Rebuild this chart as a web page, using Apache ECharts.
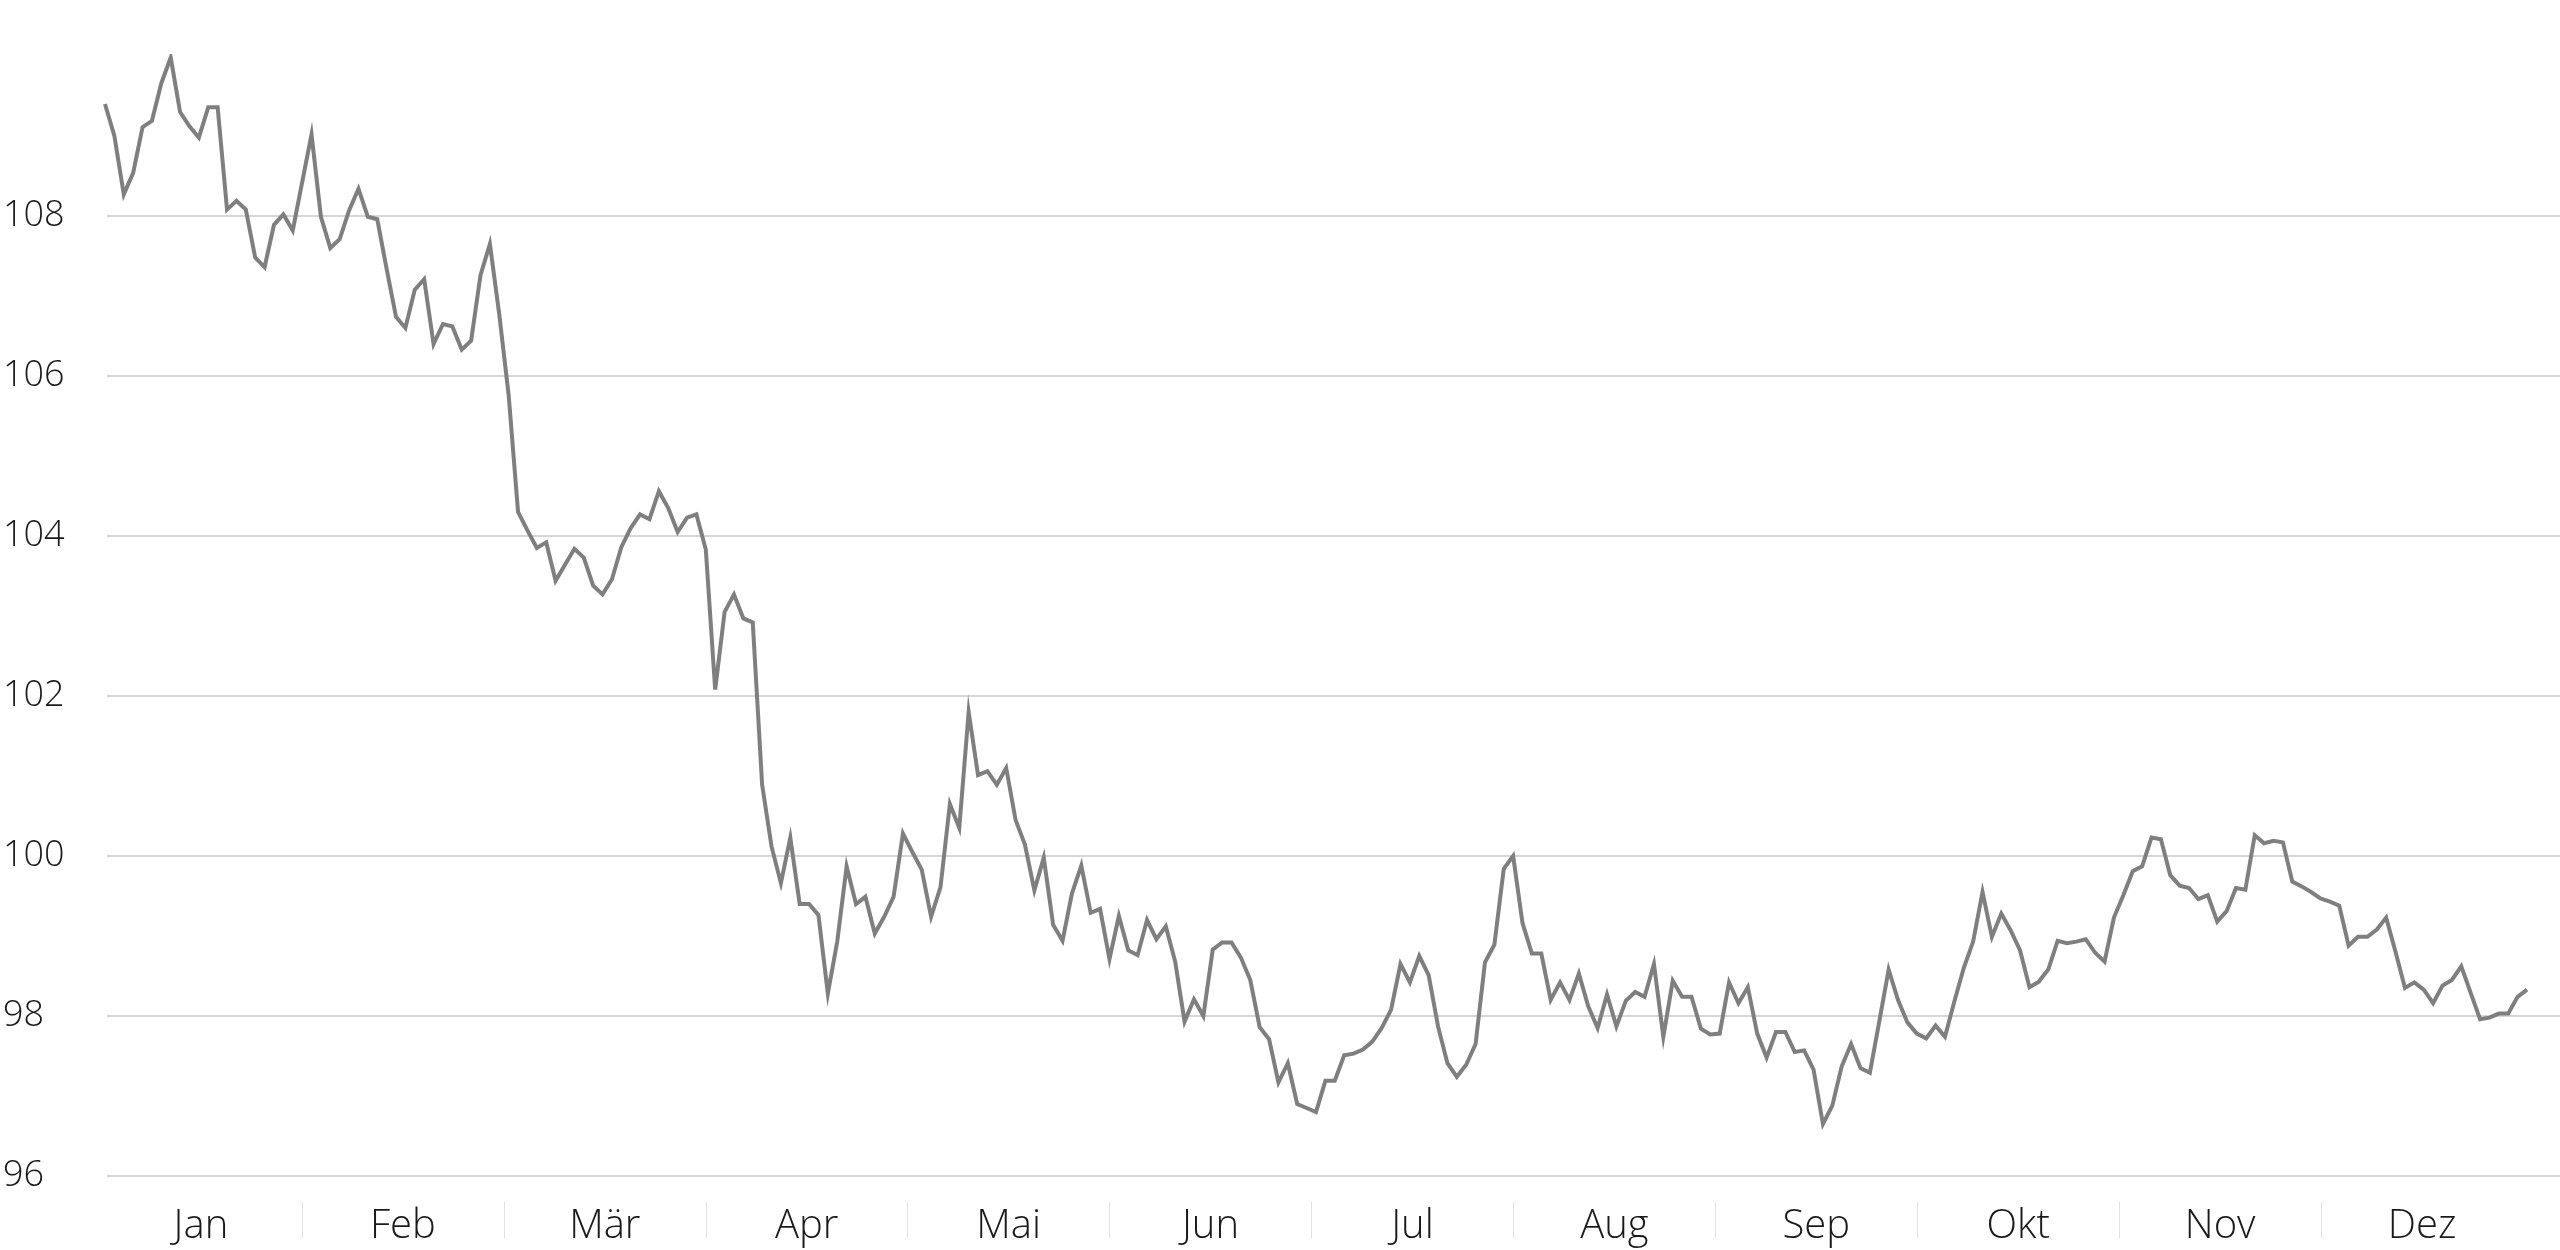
<!DOCTYPE html>
<html>
<head>
<meta charset="utf-8">
<script src="https://cdn.jsdelivr.net/npm/echarts@6/dist/echarts.min.js"></script>
<style>
  html, body { margin: 0; padding: 0; background: #ffffff; }
  #chart { width: 2560px; height: 1250px; }
</style>
</head>
<body>
<div id="chart"></div>
<script>
// ---- data ----
const months = ['Jan', 'Feb', 'Mär', 'Apr', 'Mai', 'Jun', 'Jul', 'Aug', 'Sep', 'Okt', 'Nov', 'Dez'];

const values = [
  109.40, 109.00, 108.27, 108.54, 109.11, 109.19, 109.66, 109.98, 109.30, 109.12,
  108.98, 109.36, 109.36, 108.08, 108.19, 108.08, 107.48, 107.36, 107.89, 108.02,
  107.82, 108.42, 109.02, 107.99, 107.60, 107.71, 108.07, 108.34, 107.99, 107.96,
  107.34, 106.74, 106.60, 107.08, 107.21, 106.40, 106.65, 106.62, 106.33, 106.44,
  107.26, 107.65, 106.77, 105.76, 104.30, 104.07, 103.85, 103.92, 103.44, 103.64,
  103.84, 103.73, 103.38, 103.27, 103.46, 103.86, 104.10, 104.27, 104.21, 104.56,
  104.35, 104.05, 104.23, 104.27, 103.83, 102.08, 103.05, 103.27, 102.97, 102.92,
  100.89, 100.12, 99.66, 100.23, 99.40, 99.40, 99.26, 98.28, 98.93, 99.87,
  99.40, 99.49, 99.03, 99.24, 99.49, 100.28, 100.05, 99.83, 99.24, 99.61,
  100.65, 100.35, 101.80, 101.01, 101.06, 100.89, 101.10, 100.45, 100.14, 99.57,
  99.98, 99.14, 98.94, 99.53, 99.88, 99.29, 99.34, 98.71, 99.25, 98.82,
  98.76, 99.20, 98.96, 99.12, 98.68, 97.93, 98.21, 98.00, 98.83, 98.92,
  98.92, 98.73, 98.45, 97.86, 97.71, 97.17, 97.41, 96.90, 96.85, 96.80,
  97.19, 97.19, 97.51, 97.53, 97.58, 97.68, 97.85, 98.08, 98.65, 98.42,
  98.75, 98.51, 97.87, 97.41, 97.24, 97.39, 97.65, 98.67, 98.89, 99.84,
  100.00, 99.16, 98.78, 98.78, 98.20, 98.42, 98.20, 98.53, 98.12, 97.85,
  98.27, 97.87, 98.19, 98.30, 98.24, 98.65, 97.74, 98.44, 98.24, 98.24,
  97.84, 97.77, 97.78, 98.42, 98.16, 98.36, 97.78, 97.48, 97.80, 97.80,
  97.55, 97.57, 97.33, 96.65, 96.88, 97.37, 97.65, 97.35, 97.29, 97.93,
  98.58, 98.20, 97.92, 97.78, 97.72, 97.88, 97.74, 98.18, 98.60, 98.93,
  99.55, 98.99, 99.28, 99.07, 98.82, 98.36, 98.43, 98.58, 98.94, 98.91,
  98.93, 98.96, 98.79, 98.68, 99.23, 99.51, 99.81, 99.87, 100.23, 100.21,
  99.76, 99.63, 99.60, 99.46, 99.51, 99.18, 99.31, 99.60, 99.58, 100.26,
  100.16, 100.19, 100.17, 99.68, 99.62, 99.55, 99.47, 99.43, 99.38, 98.88,
  98.99, 98.99, 99.08, 99.23, 98.80, 98.35, 98.42, 98.33, 98.16, 98.38,
  98.45, 98.62, 98.29, 97.96, 97.98, 98.03, 98.03, 98.24, 98.33
];

const yMin = 96;
const yMax = 110;
const yStep = 2;

// ---- chart ----
const chart = echarts.init(document.getElementById('chart'), null, { renderer: 'canvas' });
const FONT = '"Open Sans", "Noto Sans", sans-serif';

const option = {
  backgroundColor: '#ffffff',
  animation: false,
  grid: [
    // grid 0: value-axis labels and horizontal gridlines
    { left: 104, right: 0, top: 56, bottom: 74 },
    // grid 1: the line itself
    { left: 105, right: 33, top: 56, bottom: 74 },
    // grid 2: month labels with separators
    { left: 100, right: 37, top: 1202, bottom: 12 }
  ],
  xAxis: [
    { gridIndex: 0, type: 'value', show: false, min: 0, max: 1 },
    { gridIndex: 1, type: 'value', show: false, min: 0, max: values.length - 1 },
    {
      gridIndex: 2,
      type: 'category',
      data: months,
      boundaryGap: true,
      axisLine: { show: false },
      axisTick: { show: false },
      splitLine: {
        show: true,
        interval: 0,
        showMinLine: false,
        showMaxLine: false,
        lineStyle: { color: '#e3e3e3', width: 1 }
      },
      axisLabel: {
        interval: 0,
        margin: -11,
        verticalAlign: 'middle',
        color: '#1a1a1a',
        fontFamily: FONT,
        fontWeight: 300,
        fontSize: 40
      }
    }
  ],
  yAxis: [
    {
      gridIndex: 0,
      type: 'value',
      min: yMin,
      max: yMax,
      interval: yStep,
      axisLine: { show: false },
      axisTick: { show: false },
      splitLine: {
        show: true,
        showMaxLine: false,
        lineStyle: { color: '#d6d6d6', width: 2 }
      },
      axisLabel: {
        showMaxLabel: false,
        align: 'left',
        margin: 104,
        color: '#1a1a1a',
        fontFamily: FONT,
        fontWeight: 300,
        fontSize: 36
      }
    },
    { gridIndex: 1, type: 'value', show: false, min: yMin, max: yMax },
    { gridIndex: 2, type: 'value', show: false }
  ],
  series: [
    {
      type: 'line',
      xAxisIndex: 1,
      yAxisIndex: 1,
      data: values.map((v, i) => [i, v]),
      showSymbol: false,
      symbol: 'none',
      lineStyle: { color: '#7f7f7f', width: 4, join: 'miter' },
      silent: true
    }
  ]
};

chart.setOption(option);
</script>
</body>
</html>
